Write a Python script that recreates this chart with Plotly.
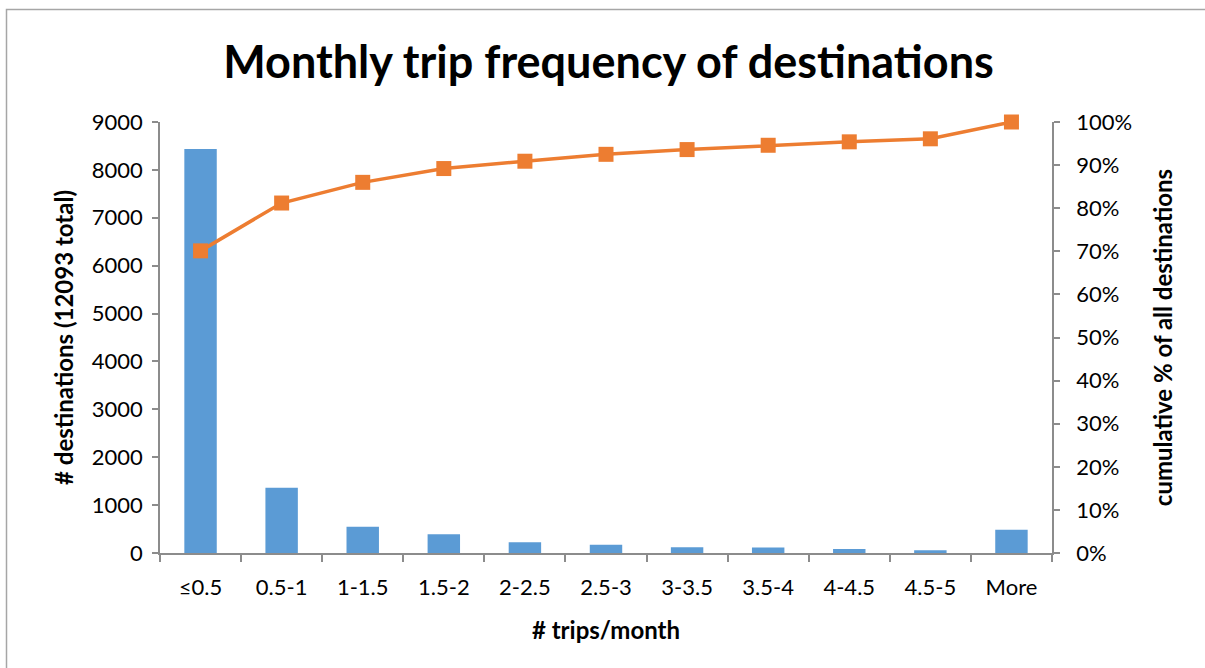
import plotly.graph_objects as go

categories = ["≤0.5", "0.5-1", "1-1.5", "1.5-2", "2-2.5", "2.5-3", "3-3.5", "3.5-4", "4-4.5", "4.5-5", "More"]
counts = [8436, 1364, 549, 390, 223, 174, 119, 115, 84, 56, 487]
cumulative_pct = [70.1, 81.2, 86.0, 89.2, 90.9, 92.5, 93.6, 94.6, 95.4, 96.1, 100.0]
left_ticks = list(range(0, 9001, 1000))
right_ticks = list(range(0, 101, 10))
right_tick_labels = [f"{v}%" for v in right_ticks]

FONT = "Lato, 'Open Sans', sans-serif"
AXIS_GRAY = "#8c8c8c"

fig = go.Figure()
fig.add_trace(go.Bar(
    x=categories, y=counts, marker=dict(color="#5b9bd5", line=dict(width=0)),
    yaxis="y", showlegend=False,
))
fig.add_trace(go.Scatter(
    x=categories, y=cumulative_pct, mode="lines+markers",
    line=dict(color="#ed7d31", width=3.5),
    marker=dict(symbol="square", size=15, color="#ed7d31"),
    yaxis="y2", showlegend=False, cliponaxis=False,
))

L, R, T, B = 160, 153, 122, 115
W, H = 1205, 668
pw, ph = W - L - R, H - T - B

fig.update_layout(
    width=W, height=H,
    margin=dict(l=L, r=R, t=T, b=B, pad=0),
    paper_bgcolor="white", plot_bgcolor="white",
    font=dict(family=FONT, color="#000000", size=22),
    bargap=0.6,
    title=dict(text="<b>Monthly trip frequency of destinations</b>",
               font=dict(family=FONT, size=45, color="#000"),
               x=0.505, xanchor="center", y=1 - 62 / H, yanchor="middle"),
    xaxis=dict(
        type="category", range=[-0.5, len(categories) - 0.5],
        showline=True, linecolor=AXIS_GRAY, linewidth=1.5,
        ticks="outside", tickson="boundaries", ticklen=7, tickcolor=AXIS_GRAY, tickwidth=1.5,
        showgrid=False, zeroline=False,
        tickfont=dict(size=22, family=FONT), ticklabelstandoff=14,
        title=dict(text="<b># trips/month</b>", font=dict(size=24, family=FONT), standoff=23),
    ),
    yaxis=dict(
        range=[0, 9000], tickvals=left_ticks,
        showline=True, linecolor=AXIS_GRAY, linewidth=1.5,
        ticks="outside", ticklen=6, tickcolor=AXIS_GRAY, tickwidth=1.5,
        showgrid=False, zeroline=False,
        tickfont=dict(size=22, family=FONT), ticklabelstandoff=5,
        title=dict(text="<b># destinations (12093 total)</b>", font=dict(size=24, family=FONT), standoff=11),
    ),
    yaxis2=dict(
        overlaying="y", side="right", range=[0, 100],
        tickvals=right_ticks, ticktext=right_tick_labels,
        showline=True, linecolor=AXIS_GRAY, linewidth=1.5,
        ticks="outside", ticklen=6, tickcolor=AXIS_GRAY, tickwidth=1.5,
        showgrid=False, zeroline=False,
        tickfont=dict(size=22, family=FONT), ticklabelstandoff=12,
        title=dict(text="<b>cumulative % of all destinations</b>", font=dict(size=24, family=FONT), standoff=24),
    ),
)

# Outer chart frame (partially out of view, as in the reference)
fig.add_shape(
    type="rect", xref="paper", yref="paper",
    x0=(6.5 - L) / pw, x1=(W + 20 - L) / pw,
    y0=(H - B - (H + 20)) / ph, y1=(H - B - 9.5) / ph,
    line=dict(color="#a6a6a6", width=1.5), fillcolor="rgba(0,0,0,0)", layer="below",
)

fig.write_html("out.html")
